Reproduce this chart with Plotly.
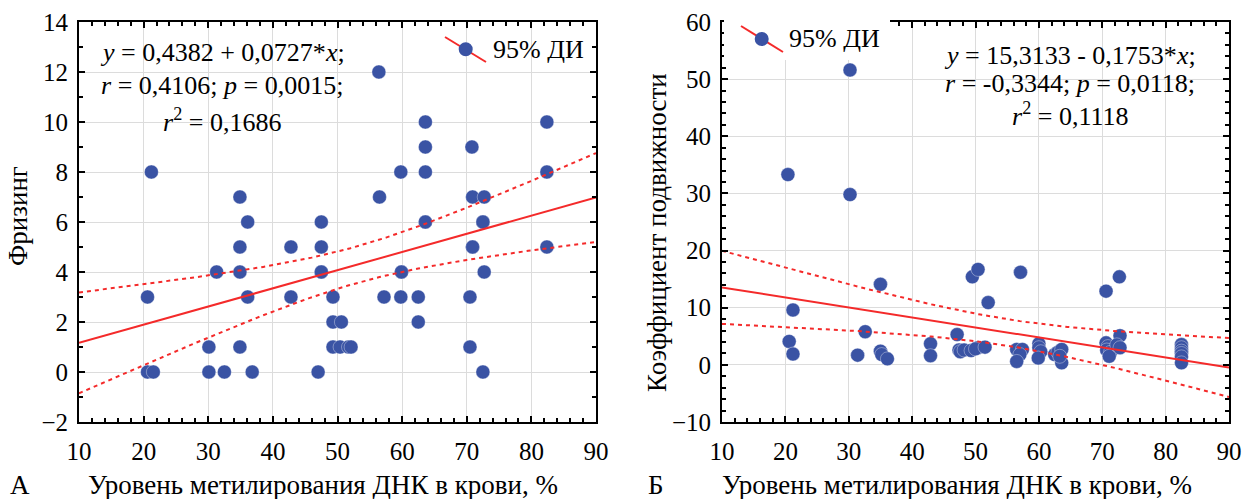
import numpy as np
import plotly.graph_objects as go

# ---------------- Data ----------------
# Panel A: DNA methylation (%) vs freezing score
a_x = [21.2, 20.6, 20.6, 21.5,
       30.1, 30.1, 31.3, 32.5,
       34.9, 34.9, 34.9, 34.9, 36.1, 36.1, 36.8,
       42.8, 42.8,
       47.5, 47.5, 47.5, 47.5, 47.0,
       49.3, 49.3, 50.6, 49.3, 50.4, 51.7, 52.1,
       56.4, 56.5, 57.2,
       59.8, 59.9, 59.9, 59.8,
       62.5, 62.5,
       63.6, 63.6, 63.6, 63.6, 63.6,
       70.8, 70.9, 72.7, 72.5, 72.5, 70.9, 70.9, 72.7, 70.5, 70.5, 72.5,
       82.4, 82.4, 82.4]
a_y = [8, 3, 0, 0,
       1, 0, 4, 0,
       7, 5, 4, 1, 6, 3, 0,
       5, 3,
       6, 5, 4, 4, 0,
       3, 2, 2, 1, 1, 1, 1,
       12, 7, 3,
       8, 4, 4, 3,
       3, 2,
       10, 9, 8, 6, 6,
       9, 7, 7, 6, 6, 5, 5, 4, 3, 1, 0,
       10, 8, 5]

# Panel B: DNA methylation (%) vs mobility coefficient
b_x = [20.4, 30.2, 30.2,
       21.2, 20.6, 21.2,
       31.4, 32.6, 35.0, 35.0, 35.2, 36.1,
       42.9, 42.9,
       47.1, 47.4, 47.6, 48.2, 49.3, 49.5, 50.4, 50.4, 50.0, 51.5, 52.0,
       57.1, 56.5, 57.4, 57.0, 56.5,
       60.0, 60.0, 60.3, 59.9,
       62.5, 63.0, 63.6, 63.6, 63.3,
       70.6, 72.7, 70.6, 70.9, 70.7, 71.3, 71.1, 72.8, 72.3, 72.8,
       82.5, 82.5, 82.5, 82.5, 82.5, 82.5]
b_y = [33.3, 51.6, 29.8,
       9.6, 4.1, 1.9,
       1.7, 5.8, 14.1, 2.4, 1.8, 1.05,
       3.7, 1.6,
       5.3, 2.6, 2.3, 2.6, 2.5, 15.4, 16.7, 3.0, 2.8, 3.1, 10.9,
       16.2, 2.7, 2.7, 1.8, 0.6,
       3.7, 3.0, 2.3, 1.2,
       1.8, 2.2, 2.7, 0.35, 1.5,
       12.9, 15.4, 3.85, 3.2, 2.6, 2.2, 1.5, 5.1, 3.5, 3.0,
       3.55, 3.0, 2.4, 2.0, 1.4, 0.35]

# Regression coefficients as printed on the chart
a_coef = (0.4382, 0.0727)
b_coef = (15.3133, -0.1753)
a_text = ["<i>y</i> = 0,4382 + 0,0727*<i>x</i>;",
          "<i>r</i> = 0,4106; <i>p</i> = 0,0015;",
          "<i>r</i><sup>2</sup> = 0,1686"]
b_text = ["<i>y</i> = 15,3133 - 0,1753*<i>x</i>;",
          "<i>r</i> = -0,3344; <i>p</i> = 0,0118;",
          "<i>r</i><sup>2</sup> = 0,1118"]

x_title = "Уровень метилирования ДНК в крови, %"
a_ytitle = "Фризинг"
b_ytitle = "Коэффициент подвижности"
legend_label = "95% ДИ"

BLUE = "#3a53a4"
RED = "#f42a2a"
FONT = "Times New Roman, Liberation Serif, serif"
W, H = 1245, 499


def band(xs, ys, coef, t=2.004):
    xs = np.asarray(xs, float)
    ys = np.asarray(ys, float)
    b0, b1 = coef
    n = len(xs)
    resid = ys - (b0 + b1 * xs)
    s = np.sqrt(np.sum(resid ** 2) / (n - 2))
    xm = xs.mean()
    sxx = np.sum((xs - xm) ** 2)
    g = np.linspace(10, 90, 161)
    fit = b0 + b1 * g
    hw = t * s * np.sqrt(1.0 / n + (g - xm) ** 2 / sxx)
    return g, fit, fit - hw, fit + hw


def px(x, y):
    """window pixel -> paper fraction"""
    return x / W, 1 - y / H


fig = go.Figure()

for xs, ys, coef, xa, ya in [(a_x, a_y, a_coef, "x", "y"),
                             (b_x, b_y, b_coef, "x2", "y2")]:
    fig.add_trace(go.Scatter(x=xs, y=ys, mode="markers", xaxis=xa, yaxis=ya,
                             marker=dict(color=BLUE, size=14,
                                         line=dict(color="rgba(255,255,255,0.6)", width=0.6)),
                             showlegend=False, hoverinfo="x+y"))
    g, fit, lo, hi = band(xs, ys, coef)
    fig.add_trace(go.Scatter(x=g, y=fit, mode="lines", xaxis=xa, yaxis=ya,
                             line=dict(color=RED, width=2), showlegend=False))
    for c in (lo, hi):
        fig.add_trace(go.Scatter(x=g, y=c, mode="lines", xaxis=xa, yaxis=ya,
                                 line=dict(color=RED, width=2, dash="4px,4px"),
                                 showlegend=False))

axis_common = dict(
    showline=True, linecolor="black", linewidth=2, mirror="allticks",
    ticks="inside", ticklen=6, tickwidth=1.5, tickcolor="black",
    showgrid=True, gridcolor="#dcdcdc", gridwidth=1,
    zeroline=False, automargin=False,
    tickfont=dict(family=FONT, size=25, color="black"),
)

xl0, _ = px(79, 0)
xl1, _ = px(596, 0)
xr0, _ = px(722, 0)
xr1, _ = px(1229, 0)
_, yb = px(0, 422)
_, yt = px(0, 22)

fig.update_layout(
    width=W, height=H,
    margin=dict(l=0, r=0, t=0, b=0, pad=0),
    paper_bgcolor="white", plot_bgcolor="white",
    showlegend=False,
    font=dict(family=FONT, color="black"),
    xaxis=dict(domain=[xl0, xl1], range=[10, 90], dtick=10, anchor="y", ticklabelstandoff=6,
               minor=dict(dtick=2, ticklen=4, ticks="inside", tickcolor="black", showgrid=False),
               **axis_common),
    yaxis=dict(domain=[yb, yt], range=[-2, 14], dtick=2, anchor="x", ticklabelstandoff=4,
               minor=dict(dtick=1, ticklen=4, ticks="inside", tickcolor="black", showgrid=False),
               **axis_common),
    xaxis2=dict(domain=[xr0, xr1], range=[10, 90], dtick=10, anchor="y2", ticklabelstandoff=6,
                minor=dict(dtick=2, ticklen=4, ticks="inside", tickcolor="black", showgrid=False),
                **axis_common),
    yaxis2=dict(domain=[yb, yt], range=[-10, 60], dtick=10, anchor="x2", ticklabelstandoff=4,
                minor=dict(dtick=2, ticklen=4, ticks="inside", tickcolor="black", showgrid=False),
                **axis_common),
)

ann = []
# statistics text blocks
for lines, cx, ys in [(a_text, 222, [52, 86, 120]), (b_text, 1070, [55, 84, 114])]:
    for t, yy in zip(lines, ys):
        xx, yp = px(cx, yy)
        ann.append(dict(text=t, x=xx, y=yp, xref="paper", yref="paper",
                        xanchor="center", yanchor="middle", showarrow=False,
                        font=dict(family=FONT, size=26, color="black")))
# axis titles
for t, cx in [(x_title, 323), (x_title, 957)]:
    xx, yp = px(cx, 485)
    ann.append(dict(text=t, x=xx, y=yp, xref="paper", yref="paper",
                    xanchor="center", yanchor="middle", showarrow=False,
                    font=dict(family=FONT, size=27, color="black")))
for t, cx, cy in [(a_ytitle, 18, 216), (b_ytitle, 657, 233)]:
    xx, yp = px(cx, cy)
    ann.append(dict(text=t, x=xx, y=yp, xref="paper", yref="paper",
                    xanchor="center", yanchor="middle", showarrow=False, textangle=-90,
                    font=dict(family=FONT, size=27, color="black")))
for t, cx in [("А", 20), ("Б", 656)]:
    xx, yp = px(cx, 485)
    ann.append(dict(text=t, x=xx, y=yp, xref="paper", yref="paper",
                    xanchor="center", yanchor="middle", showarrow=False,
                    font=dict(family=FONT, size=27, color="black")))

shapes = []
# white box behind right-panel legend (covers top axis line & grid)
x0, y0 = px(724, 0)
x1, y1 = px(890, 60)
shapes.append(dict(type="rect", xref="paper", yref="paper", x0=x0, y0=y1, x1=x1, y1=y0,
                   fillcolor="white", line=dict(width=0), layer="above"))

# legend glyphs: diagonal red line with a blue dot, then label
for (lx0, ly0, lx1, ly1), (mx, my), tx in [((445, 37, 486, 62), (465.7, 49.3), 491),
                                           ((741, 26, 783, 52), (761.7, 39), 787)]:
    a0, b0_ = px(lx0, ly0)
    a1, b1_ = px(lx1, ly1)
    shapes.append(dict(type="line", xref="paper", yref="paper", x0=a0, y0=b0_, x1=a1, y1=b1_,
                       line=dict(color=RED, width=2), layer="above"))
    c0, d0 = px(mx - 7, my - 7)
    c1, d1 = px(mx + 7, my + 7)
    shapes.append(dict(type="circle", xref="paper", yref="paper", x0=c0, y0=d1, x1=c1, y1=d0,
                       fillcolor=BLUE, line=dict(width=0), layer="above"))
    xx, yp = px(tx, my)
    ann.append(dict(text=legend_label, x=xx, y=yp, xref="paper", yref="paper",
                    xanchor="left", yanchor="middle", showarrow=False,
                    font=dict(family=FONT, size=26, color="black")))

fig.update_layout(annotations=ann, shapes=shapes)

fig.write_html("out.html",
               config={"displayModeBar": False},
               post_script="document.body.style.margin='0px';"
                           "document.body.style.overflow='hidden';")
